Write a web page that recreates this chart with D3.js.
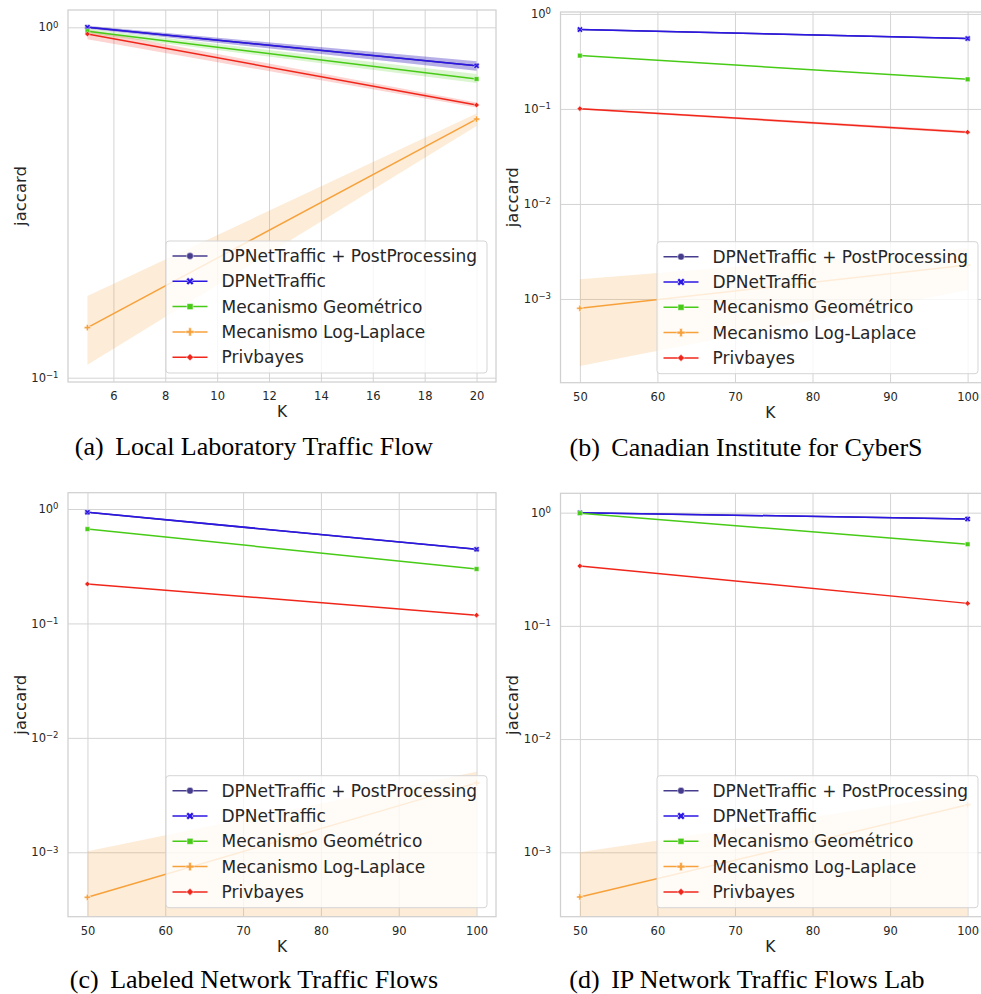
<!DOCTYPE html>
<html>
<head>
<meta charset="utf-8">
<script src="https://cdn.jsdelivr.net/npm/d3@7"></script>
<style>
  body { margin: 0; background: #fff; }
  svg { display: block; font-family: "DejaVu Sans", sans-serif; }
</style>
</head>
<body>
<svg id="svg"></svg>
<script>
// series in seaborn hue order
const seriesNames = ['DPNetTraffic + PostProcessing', 'DPNetTraffic', 'Mecanismo Geométrico', 'Mecanismo Log-Laplace', 'Privbayes'];
const seriesColors = ['#463c8e', '#2b16e4', '#47cb16', '#f7a13b', '#f0261b'];
const seriesMarkers = ['circle', 'x', 'square', 'plus', 'diamond'];

const captionTags = ['(a)', '(b)', '(c)', '(d)'];
const captionTitles = ['Local Laboratory Traffic Flow', 'Canadian Institute for CyberS', 'Labeled Network Traffic Flows', 'IP Network Traffic Flows Lab'];

const kSmall = [5, 20];
const kLarge = [50, 100];
const xTicksSmall = [6, 8, 10, 12, 14, 16, 18, 20];
const xTicksLarge = [50, 60, 70, 80, 90, 100];
const yExpTwo = [-1, 0];
const yExpFour = [-3, -2, -1, 0];

// mean jaccard, one row per series, one column per K
const jaccardA = [[1.0, 0.777], [1.0, 0.777], [0.975, 0.712], [0.139, 0.547], [0.957, 0.600]];
const lowerA   = [[0.99, 0.752], [0.99, 0.752], [0.96, 0.693], [0.1088, 0.523], [0.924, 0.59]];
const upperA   = [[1.01, 0.80], [1.01, 0.80], [0.99, 0.736], [0.171, 0.568], [0.985, 0.61]];

const jaccardB = [[0.684, 0.55], [0.684, 0.55], [0.364, 0.205], [0.000798, 0.00228], [0.1007, 0.0569]];
const lowerB   = [[0.684, 0.55], [0.684, 0.55], [0.364, 0.205], [0.000197, 0.001245], [0.098, 0.055]];
const upperB   = [[0.684, 0.55], [0.684, 0.55], [0.364, 0.205], [0.00161, 0.00342], [0.103, 0.059]];

const jaccardC = [[0.935, 0.444], [0.935, 0.444], [0.668, 0.299], [0.000404, 0.00404], [0.221, 0.118]];
const lowerC   = [[0.935, 0.444], [0.935, 0.444], [0.668, 0.299], [0, 0], [0.221, 0.118]];
const upperC   = [[0.935, 0.444], [0.935, 0.444], [0.668, 0.299], [0.00102, 0.00505], [0.221, 0.118]];

const jaccardD = [[1.0, 0.88], [1.0, 0.88], [0.99, 0.526], [0.000403, 0.00263], [0.338, 0.158]];
const lowerD   = [[1.0, 0.88], [1.0, 0.88], [0.99, 0.526], [0, 0], [0.338, 0.158]];
const upperD   = [[1.0, 0.88], [1.0, 0.88], [0.99, 0.526], [0.001, 0.0033], [0.338, 0.158]];

const width = 981;
const height = 994;

const svg = d3.select('#svg')
  .attr('width', width)
  .attr('height', height);

// frame boxes and axis limits of each subplot
const panels = [
  { k: kSmall, mean: jaccardA, lo: lowerA, hi: upperA, xTicks: xTicksSmall, yExp: yExpTwo,
    xDomain: [4.25, 20.75], yDomain: [-1.0123, 0.0494],
    left: 68, right: 496, top: 10, bottom: 382, capX: 254, capY: 455 },
  { k: kLarge, mean: jaccardB, lo: lowerB, hi: upperB, xTicks: xTicksLarge, yExp: yExpFour,
    xDomain: [47.5, 102.5], yDomain: [-3.881, 0.02],
    left: 560.5, right: 987, top: 12, bottom: 382.7, capX: 746, capY: 456 },
  { k: kLarge, mean: jaccardC, lo: lowerC, hi: upperC, xTicks: xTicksLarge, yExp: yExpFour,
    xDomain: [47.5, 102.5], yDomain: [-3.563, 0.1425],
    left: 68, right: 496, top: 492.7, bottom: 916.7, capX: 254, capY: 988 },
  { k: kLarge, mean: jaccardD, lo: lowerD, hi: upperD, xTicks: xTicksLarge, yExp: yExpFour,
    xDomain: [47.5, 102.5], yDomain: [-3.569, 0.171],
    left: 560.5, right: 987, top: 493.3, bottom: 916.7, capX: 747, capY: 988 }
];

const symbolType = {
  circle: d3.symbolCircle,
  x: d3.symbolCross,
  square: d3.symbolSquare,
  plus: d3.symbolCross,
  diamond: d3.symbolSquare
};

function marker(sel, name, size) {
  sel.attr('d', d3.symbol().type(symbolType[name]).size(name === 'diamond' ? size * 0.7 : size)())
    .attr('transform', function() {
      const t = d3.select(this).attr('data-t') || '';
      return (name === 'x' || name === 'diamond') ? t + ' rotate(45)' : t;
    });
}

function drawPanel(p, idx) {
  const g = svg.append('g');
  const x = d3.scaleLinear().domain(p.xDomain).range([p.left, p.right]);
  const y = d3.scaleLog().domain(p.yDomain.map(e => Math.pow(10, e))).range([p.bottom, p.top]);
  // zero lower bounds drop off the log axis
  const yv = v => v > 0 ? y(v) : p.bottom + 10;

  const clipId = 'clip' + idx;
  svg.append('clipPath').attr('id', clipId)
    .append('rect')
    .attr('x', p.left).attr('y', p.top)
    .attr('width', p.right - p.left).attr('height', p.bottom - p.top);

  // grid + tick labels
  const xAxis = g.append('g')
    .attr('transform', `translate(0,${p.bottom})`)
    .call(d3.axisBottom(x).tickValues(p.xTicks).tickSize(-(p.bottom - p.top)).tickPadding(10));
  const yAxis = g.append('g')
    .attr('transform', `translate(${p.left},0)`)
    .call(d3.axisLeft(y).tickValues(p.yExp.map(e => Math.pow(10, e))).tickSize(-(p.right - p.left)).tickPadding(9.5));

  [xAxis, yAxis].forEach(a => {
    a.select('.domain').remove();
    a.selectAll('line').attr('stroke', '#d4d4d4').attr('stroke-width', 1);
    a.selectAll('text').attr('fill', '#262626').attr('font-size', 11.5).attr('font-family', 'DejaVu Sans');
  });

  yAxis.selectAll('.tick text')
    .text('')
    .each(function(d) {
      const e = Math.round(Math.log10(d));
      const t = d3.select(this);
      t.append('tspan').text('10');
      t.append('tspan').attr('dy', '-0.45em').attr('font-size', 8.5)
        .text(e < 0 ? '\u2212' + (-e) : String(e));
    });

  const plot = g.append('g').attr('clip-path', `url(#${clipId})`);

  const area = d3.area()
    .x(d => x(d.k))
    .y0(d => yv(d.lo))
    .y1(d => yv(d.hi));
  const line = d3.line()
    .x(d => x(d.k))
    .y(d => y(d.v));

  const rows = p.mean.map((vals, s) => vals.map((v, i) => ({ k: p.k[i], v: v, lo: p.lo[s][i], hi: p.hi[s][i] })));

  rows.forEach((r, s) => {
    plot.append('path')
      .datum(r)
      .attr('d', area)
      .attr('fill', seriesColors[s])
      .attr('fill-opacity', 0.2);
  });
  rows.forEach((r, s) => {
    plot.append('path')
      .datum(r)
      .attr('d', line)
      .attr('fill', 'none')
      .attr('stroke', seriesColors[s])
      .attr('stroke-width', 1.5);
    plot.selectAll(null)
      .data(r)
      .enter()
      .append('path')
      .attr('data-t', d => `translate(${x(d.k)},${y(d.v)})`)
      .attr('fill', seriesColors[s])
      .attr('stroke', '#fff')
      .attr('stroke-width', 0.5)
      .call(marker, seriesMarkers[s], 22);
  });

  // frame
  g.append('rect')
    .attr('x', p.left).attr('y', p.top)
    .attr('width', p.right - p.left).attr('height', p.bottom - p.top)
    .attr('fill', 'none')
    .attr('stroke', '#d0d0d0')
    .attr('stroke-width', 1.25);

  // axis titles
  g.append('text')
    .attr('x', (p.left + p.right) / 2 - (p.right > width ? 3.5 : 0))
    .attr('y', p.bottom + 35)
    .attr('text-anchor', 'middle')
    .attr('font-size', 15.5)
    .attr('fill', '#262626')
    .text('K');
  g.append('text')
    .attr('transform', `translate(${p.left - 48},${(p.top + p.bottom) / 2}) rotate(-90)`)
    .attr('dy', '0.35em')
    .attr('text-anchor', 'middle')
    .attr('font-size', 16.5)
    .attr('fill', '#262626')
    .text('jaccard');

  // legend, lower right
  const lw = 321, lh = 132;
  const legend = g.append('g')
    .attr('transform', `translate(${p.right - 9 - lw},${p.bottom - 9 - lh})`);
  legend.append('rect')
    .attr('width', lw).attr('height', lh)
    .attr('rx', 3)
    .attr('fill', '#fff').attr('fill-opacity', 0.8)
    .attr('stroke', '#d5d5d5').attr('stroke-width', 1);
  seriesNames.forEach((name, s) => {
    const cy = 15 + s * 25.3;
    legend.append('line')
      .attr('x1', 6.5).attr('x2', 41.5)
      .attr('y1', cy).attr('y2', cy)
      .attr('stroke', seriesColors[s]).attr('stroke-width', 1.5);
    legend.append('path')
      .attr('data-t', `translate(24,${cy})`)
      .attr('fill', seriesColors[s])
      .attr('stroke', '#fff')
      .attr('stroke-width', 0.5)
      .call(marker, seriesMarkers[s], 36);
    legend.append('text')
      .attr('x', 55.5).attr('y', cy)
      .attr('dy', '0.35em')
      .attr('font-size', 17)
      .attr('fill', '#262626')
      .text(name);
  });

  // subfigure caption
  const cap = svg.append('text')
    .attr('x', p.capX).attr('y', p.capY)
    .attr('text-anchor', 'middle')
    .attr('font-family', '"Liberation Serif", "Times New Roman", serif')
    .attr('font-size', 26)
    .attr('fill', '#000');
  cap.append('tspan').text(captionTags[idx]);
  cap.append('tspan').attr('dx', 5).text(' ' + captionTitles[idx]);
}

panels.forEach(drawPanel);
</script>
</body>
</html>
